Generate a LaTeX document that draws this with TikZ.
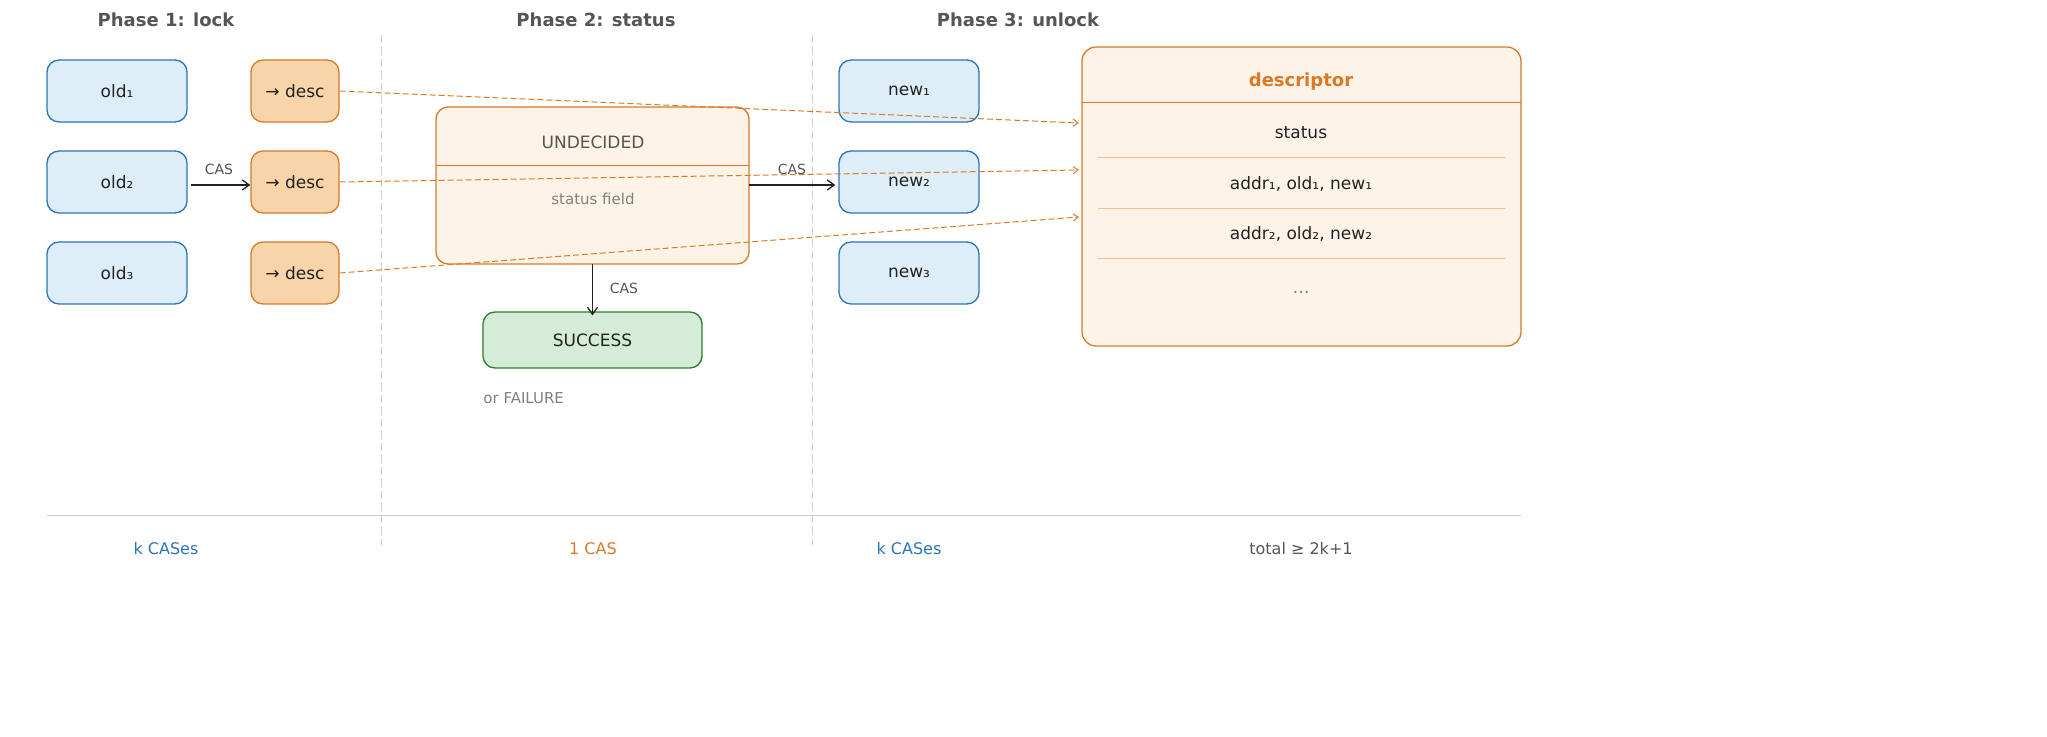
\documentclass[tikz,border=0pt]{standalone}
\usepackage{fontspec}
\setmainfont{DejaVu Sans}
\usetikzlibrary{arrows.meta}
\definecolor{bstroke}{HTML}{2A75BB}
\definecolor{bfill}{HTML}{DDEEF8}
\definecolor{ostroke}{HTML}{D97A2A}
\definecolor{ofill}{HTML}{F7D5A8}
\definecolor{lfill}{HTML}{FDF3E6}
\definecolor{gstroke}{HTML}{2E7D32}
\definecolor{gfill}{HTML}{D5ECD9}
\definecolor{tgray}{HTML}{555555}
\definecolor{dtext}{HTML}{222222}
\begin{document}
\begin{tikzpicture}[x=0.5pt,y=-0.5pt,
  every node/.style={font=\fontsize{8.5}{10}\selectfont,text=dtext},
  oldb/.style={draw=bstroke,fill=bfill,line width=0.65pt,rounded corners=6pt,minimum width=70pt,minimum height=31pt},
  descb/.style={draw=ostroke,fill=ofill,line width=0.65pt,rounded corners=6pt,minimum width=44pt,minimum height=31pt},
  title/.style={font=\bfseries\fontsize{9}{11}\selectfont,text=tgray},
  cas/.style={font=\fontsize{7}{8}\selectfont,text=tgray},
  arr/.style={-{Straight Barb[length=3.5pt,width=5pt]},line width=0.65pt,draw=dtext},
  darr/.style={-{Straight Barb[length=2.5pt,width=3.5pt]},draw=ostroke,dash pattern=on 3pt off 1.5pt,line width=0.5pt},
  sep/.style={draw=gray!40,dash pattern=on 4pt off 2pt,line width=0.5pt},
  bot/.style={font=\fontsize{8}{10}\selectfont}]
\node[title] (t1) at (166,20) {Phase 1: lock};
\node[title] (t2) at (596,20) {Phase 2: status};
\node[title] (t3) at (1018,20) {Phase 3: unlock};
\coordinate (s1a) at (381,35); \coordinate (s1b) at (381,545);
\coordinate (s2a) at (812,35); \coordinate (s2b) at (812,545);
\draw[sep] (s1a) -- (s1b); \draw[sep] (s2a) -- (s2b);
\node[oldb] (o1) at (117,91) {old₁};
\node[oldb] (o2) at (117,182) {old₂};
\node[oldb] (o3) at (117,273) {old₃};
\node[descb] (d1) at (295,91) {→ desc};
\node[descb] (d2) at (295,182) {→ desc};
\node[descb] (d3) at (295,273) {→ desc};
\coordinate (ca) at (191,185);
\draw[arr] (ca) -- (ca -| d2.west);
\node[cas] (c1) at (219,169) {CAS};
% descriptor
\draw[draw=ostroke,fill=lfill,line width=0.65pt,rounded corners=7pt] (1082,47) rectangle (1521,346);
\coordinate (dl) at (1082,103); \coordinate (dr) at (1521,103);
\draw[ostroke,line width=0.5pt] (dl) -- (dr);
\node[font=\bfseries\fontsize{9}{11}\selectfont,text=ostroke] (dt) at (1301,82) {descriptor};
\node (f0) at (1301,133) {status};
\node (f1) at (1301,184) {addr₁, old₁, new₁};
\node (f2) at (1301,234) {addr₂, old₂, new₂};
\node[text=gray] (f3) at (1301,292) {…};
\foreach \yy in {157,208,258} \draw[ofill!80!ostroke,line width=0.4pt] (1098,\yy) -- (1505,\yy);
% status
\draw[draw=ostroke,fill=lfill,line width=0.65pt,rounded corners=6pt] (436,107) rectangle (749,264);
\node (und) at (592.5,185.5) [minimum width=156.5pt,minimum height=78.5pt,inner sep=0] {};
\coordinate (ul) at (436,166); \coordinate (ur) at (749,166);
\draw[ostroke,line width=0.5pt] (ul) -- (ur);
\node[text=tgray] (u1) at (593,142) {UNDECIDED};
\node[text=gray,font=\fontsize{7.5}{9}\selectfont] (u2) at (593,199) {status field};
\node[oldb] (n1) at (909,91) {new₁};
\node[oldb] (n2) at (909,182) {new₂};
\node[oldb] (n3) at (909,273) {new₃};
\draw[arr] (und.east|-ca) -- ([xshift=-1.5pt]n2.west|-ca);
\node[cas] (c2) at (792,169) {CAS};
\node[draw=gstroke,fill=gfill,line width=0.65pt,rounded corners=6pt,minimum width=109.5pt,minimum height=28pt] (sc) at (592.5,340) {SUCCESS};
\draw[arr] (und.south) -- ([yshift=-2pt]sc.north);
\node[cas] (c3) at (624,288) {CAS};
\node[anchor=west,text=gray,font=\fontsize{7.5}{9}\selectfont,inner sep=0] (fl) at (483,398) {or FAILURE};
\coordinate (e1) at (1079,123); \coordinate (e2) at (1079,170); \coordinate (e3) at (1079,217);
\draw[darr] (d1.east) -- (e1);
\draw[darr] (d2.east) -- (e2);
\draw[darr] (d3.east) -- (e3);
\coordinate (ha) at (47,516); \coordinate (hb) at (1521,516);
\draw[gray!40,line width=0.5pt] (ha) -- (hb);
\node[bot,text=bstroke] (b1) at (166,549) {k CASes};
\node[bot,text=ostroke] (b2) at (593,549) {1 CAS};
\node[bot,text=bstroke] (b3) at (909,549) {k CASes};
\node[bot,text=tgray] (b4) at (1301,549) {total ≥ 2k+1};
\pgfresetboundingbox
\path[use as bounding box] (0,0) rectangle (2047,737);
\end{tikzpicture}
\end{document}
